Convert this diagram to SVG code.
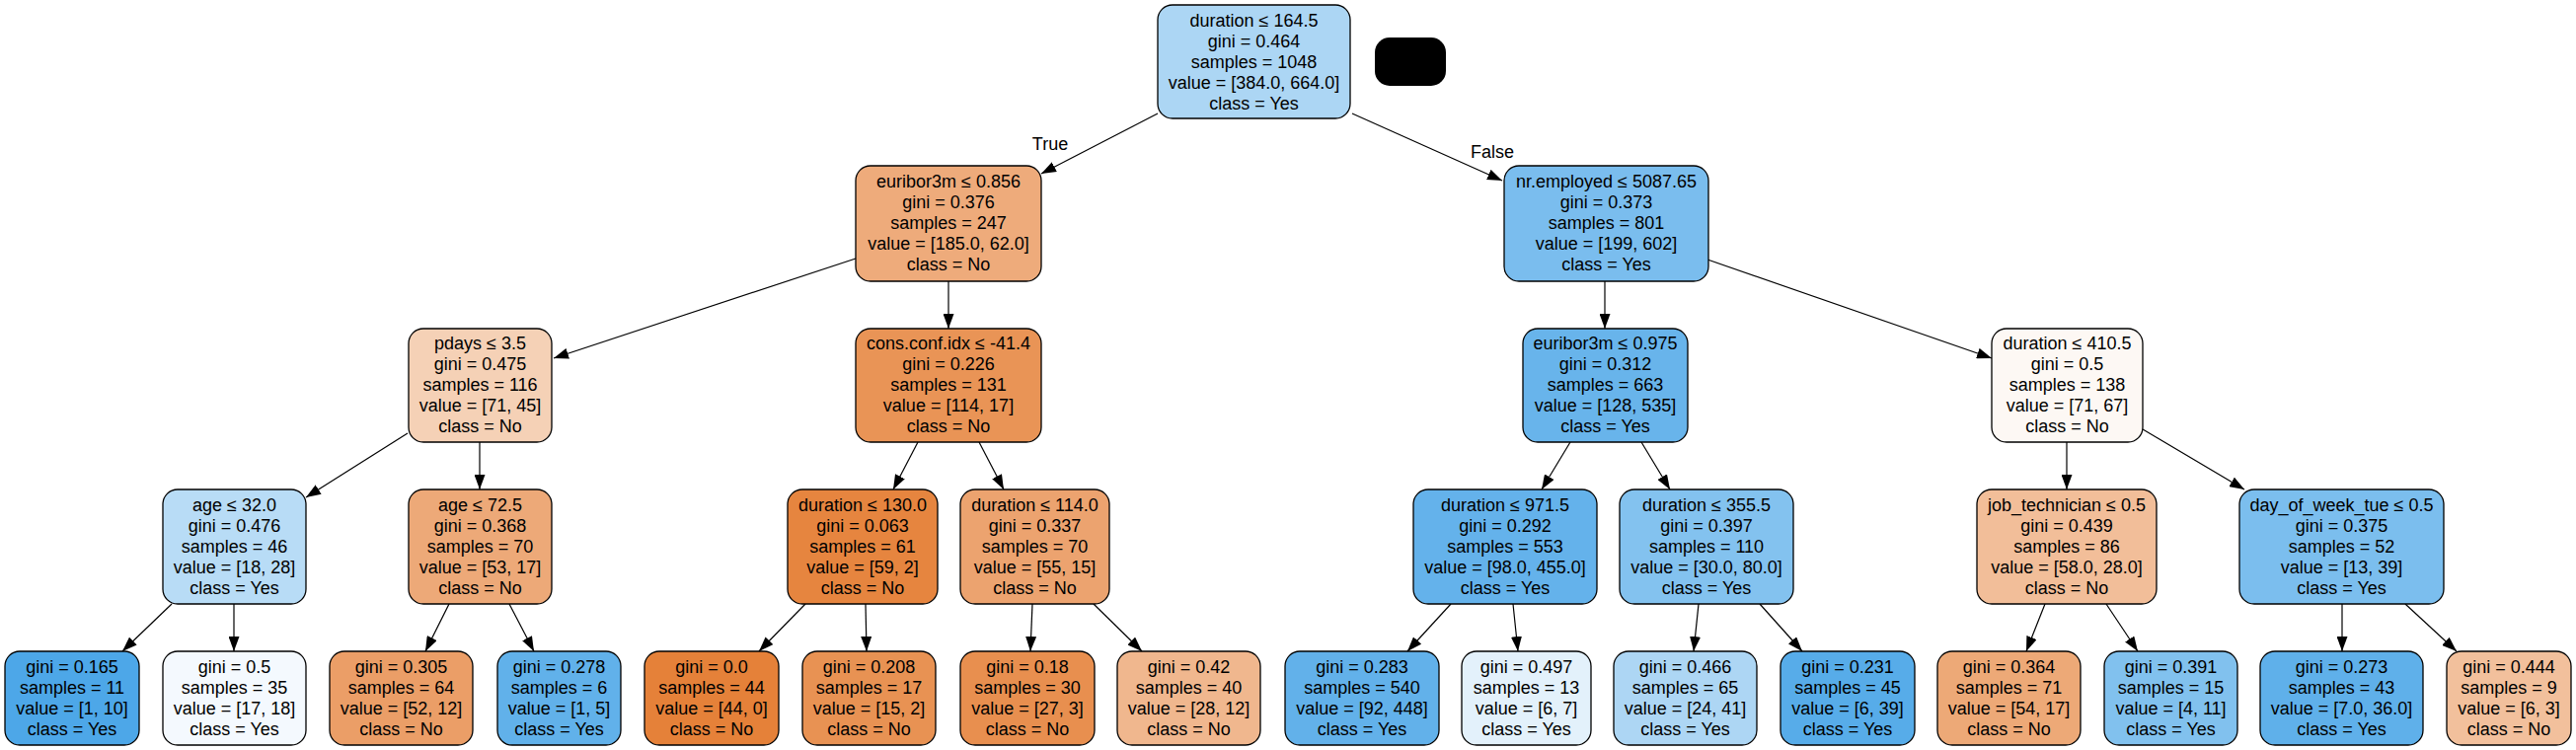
<svg xmlns="http://www.w3.org/2000/svg" width="2610" height="760" viewBox="0 0 2610 760">
<style>
.n rect{stroke:#000;stroke-width:1.3}
text{font-family:"Liberation Sans",Arial,sans-serif;font-size:18px;fill:#000;text-anchor:middle}
.e line{stroke:#000;stroke-width:1.2;marker-end:url(#ah)}
</style>
<defs>
<marker id="ah" markerUnits="userSpaceOnUse" markerWidth="15" markerHeight="11" refX="15" refY="5.5" orient="auto">
<path d="M0,0 L15,5.5 L0,11 z" fill="#000"/>
</marker>
</defs>
<rect width="2610" height="760" fill="#fff"/>
<g class="e" id="connectors">
<line x1="1173" y1="115" x2="1055" y2="176"/>
<line x1="1370" y1="115" x2="1522" y2="183"/>
<line x1="873" y1="260" x2="561" y2="363"/>
<line x1="961" y1="285" x2="961" y2="333"/>
<line x1="413" y1="439" x2="310" y2="504"/>
<line x1="486" y1="448" x2="486" y2="496"/>
<line x1="174" y1="612" x2="124" y2="660"/>
<line x1="237" y1="612" x2="237" y2="660"/>
<line x1="455" y1="612" x2="431" y2="660"/>
<line x1="516" y1="612" x2="541" y2="660"/>
<line x1="930" y1="448" x2="905" y2="496"/>
<line x1="992" y1="448" x2="1017" y2="496"/>
<line x1="816" y1="612" x2="769" y2="660"/>
<line x1="877" y1="612" x2="878" y2="660"/>
<line x1="1046" y1="612" x2="1044" y2="660"/>
<line x1="1108" y1="612" x2="1157" y2="660"/>
<line x1="1626" y1="285" x2="1626" y2="333"/>
<line x1="1730" y1="263" x2="2018" y2="363"/>
<line x1="1591" y1="448" x2="1562" y2="496"/>
<line x1="1663" y1="448" x2="1692" y2="496"/>
<line x1="1470" y1="612" x2="1426" y2="660"/>
<line x1="1533" y1="612" x2="1538" y2="660"/>
<line x1="1721" y1="612" x2="1716" y2="660"/>
<line x1="1783" y1="612" x2="1826" y2="660"/>
<line x1="2094" y1="448" x2="2094" y2="496"/>
<line x1="2171" y1="435" x2="2274" y2="496"/>
<line x1="2072" y1="612" x2="2053" y2="660"/>
<line x1="2134" y1="612" x2="2166" y2="660"/>
<line x1="2373" y1="612" x2="2373" y2="660"/>
<line x1="2437" y1="612" x2="2489" y2="660"/>
<text x="1064" y="152">True</text>
<text x="1512" y="160">False</text>
</g>
<g id="redaction"><rect x="1393" y="38" width="72" height="49" rx="15" fill="#000"/></g>
<g class="n" id="n0"><rect x="1173" y="5" width="195" height="115" rx="15" fill="#acd6f4"/><text x="1270.5" y="27">duration ≤ 164.5</text><text x="1270.5" y="48">gini = 0.464</text><text x="1270.5" y="69">samples = 1048</text><text x="1270.5" y="90">value = [384.0, 664.0]</text><text x="1270.5" y="111">class = Yes</text></g>
<g class="n" id="n1"><rect x="867" y="168" width="188" height="117" rx="15" fill="#eeab7b"/><text x="961" y="190">euribor3m ≤ 0.856</text><text x="961" y="211">gini = 0.376</text><text x="961" y="232">samples = 247</text><text x="961" y="253">value = [185.0, 62.0]</text><text x="961" y="274">class = No</text></g>
<g class="n" id="n16"><rect x="1524" y="168" width="207" height="117" rx="15" fill="#7abdee"/><text x="1627.5" y="190">nr.employed ≤ 5087.65</text><text x="1627.5" y="211">gini = 0.373</text><text x="1627.5" y="232">samples = 801</text><text x="1627.5" y="253">value = [199, 602]</text><text x="1627.5" y="274">class = Yes</text></g>
<g class="n" id="n2"><rect x="414" y="333" width="145" height="115" rx="15" fill="#f5d1b6"/><text x="486.5" y="354">pdays ≤ 3.5</text><text x="486.5" y="375">gini = 0.475</text><text x="486.5" y="396">samples = 116</text><text x="486.5" y="417">value = [71, 45]</text><text x="486.5" y="438">class = No</text></g>
<g class="n" id="n9"><rect x="867" y="333" width="188" height="115" rx="15" fill="#e99456"/><text x="961" y="354">cons.conf.idx ≤ -41.4</text><text x="961" y="375">gini = 0.226</text><text x="961" y="396">samples = 131</text><text x="961" y="417">value = [114, 17]</text><text x="961" y="438">class = No</text></g>
<g class="n" id="n17"><rect x="1543" y="333" width="167" height="115" rx="15" fill="#68b4eb"/><text x="1626.5" y="354">euribor3m ≤ 0.975</text><text x="1626.5" y="375">gini = 0.312</text><text x="1626.5" y="396">samples = 663</text><text x="1626.5" y="417">value = [128, 535]</text><text x="1626.5" y="438">class = Yes</text></g>
<g class="n" id="n24"><rect x="2018" y="333" width="153" height="115" rx="15" fill="#fdf8f4"/><text x="2094.5" y="354">duration ≤ 410.5</text><text x="2094.5" y="375">gini = 0.5</text><text x="2094.5" y="396">samples = 138</text><text x="2094.5" y="417">value = [71, 67]</text><text x="2094.5" y="438">class = No</text></g>
<g class="n" id="n3"><rect x="165" y="496" width="145" height="116" rx="15" fill="#b8dcf6"/><text x="237.5" y="518">age ≤ 32.0</text><text x="237.5" y="539">gini = 0.476</text><text x="237.5" y="560">samples = 46</text><text x="237.5" y="581">value = [18, 28]</text><text x="237.5" y="602">class = Yes</text></g>
<g class="n" id="n6"><rect x="414" y="496" width="145" height="116" rx="15" fill="#eda978"/><text x="486.5" y="518">age ≤ 72.5</text><text x="486.5" y="539">gini = 0.368</text><text x="486.5" y="560">samples = 70</text><text x="486.5" y="581">value = [53, 17]</text><text x="486.5" y="602">class = No</text></g>
<g class="n" id="n10"><rect x="798" y="496" width="152" height="116" rx="15" fill="#e6853f"/><text x="874" y="518">duration ≤ 130.0</text><text x="874" y="539">gini = 0.063</text><text x="874" y="560">samples = 61</text><text x="874" y="581">value = [59, 2]</text><text x="874" y="602">class = No</text></g>
<g class="n" id="n13"><rect x="973" y="496" width="151" height="116" rx="15" fill="#eca36f"/><text x="1048.5" y="518">duration ≤ 114.0</text><text x="1048.5" y="539">gini = 0.337</text><text x="1048.5" y="560">samples = 70</text><text x="1048.5" y="581">value = [55, 15]</text><text x="1048.5" y="602">class = No</text></g>
<g class="n" id="n18"><rect x="1432" y="496" width="186" height="116" rx="15" fill="#64b2eb"/><text x="1525" y="518">duration ≤ 971.5</text><text x="1525" y="539">gini = 0.292</text><text x="1525" y="560">samples = 553</text><text x="1525" y="581">value = [98.0, 455.0]</text><text x="1525" y="602">class = Yes</text></g>
<g class="n" id="n21"><rect x="1641" y="496" width="176" height="116" rx="15" fill="#83c2ef"/><text x="1729" y="518">duration ≤ 355.5</text><text x="1729" y="539">gini = 0.397</text><text x="1729" y="560">samples = 110</text><text x="1729" y="581">value = [30.0, 80.0]</text><text x="1729" y="602">class = Yes</text></g>
<g class="n" id="n25"><rect x="2003" y="496" width="182" height="116" rx="15" fill="#f2be99"/><text x="2094" y="518">job_technician ≤ 0.5</text><text x="2094" y="539">gini = 0.439</text><text x="2094" y="560">samples = 86</text><text x="2094" y="581">value = [58.0, 28.0]</text><text x="2094" y="602">class = No</text></g>
<g class="n" id="n28"><rect x="2269" y="496" width="207" height="116" rx="15" fill="#7bbeee"/><text x="2372.5" y="518">day_of_week_tue ≤ 0.5</text><text x="2372.5" y="539">gini = 0.375</text><text x="2372.5" y="560">samples = 52</text><text x="2372.5" y="581">value = [13, 39]</text><text x="2372.5" y="602">class = Yes</text></g>
<g class="n" id="n4"><rect x="5" y="660" width="136" height="95" rx="15" fill="#4da7e8"/><text x="73" y="682">gini = 0.165</text><text x="73" y="703">samples = 11</text><text x="73" y="724">value = [1, 10]</text><text x="73" y="745">class = Yes</text></g>
<g class="n" id="n5"><rect x="165" y="660" width="145" height="95" rx="15" fill="#f4f9fe"/><text x="237.5" y="682">gini = 0.5</text><text x="237.5" y="703">samples = 35</text><text x="237.5" y="724">value = [17, 18]</text><text x="237.5" y="745">class = Yes</text></g>
<g class="n" id="n7"><rect x="334" y="660" width="145" height="95" rx="15" fill="#eb9e67"/><text x="406.5" y="682">gini = 0.305</text><text x="406.5" y="703">samples = 64</text><text x="406.5" y="724">value = [52, 12]</text><text x="406.5" y="745">class = No</text></g>
<g class="n" id="n8"><rect x="504" y="660" width="125" height="95" rx="15" fill="#61b1ea"/><text x="566.5" y="682">gini = 0.278</text><text x="566.5" y="703">samples = 6</text><text x="566.5" y="724">value = [1, 5]</text><text x="566.5" y="745">class = Yes</text></g>
<g class="n" id="n11"><rect x="653" y="660" width="136" height="95" rx="15" fill="#e58139"/><text x="721" y="682">gini = 0.0</text><text x="721" y="703">samples = 44</text><text x="721" y="724">value = [44, 0]</text><text x="721" y="745">class = No</text></g>
<g class="n" id="n12"><rect x="813" y="660" width="135" height="95" rx="15" fill="#e89253"/><text x="880.5" y="682">gini = 0.208</text><text x="880.5" y="703">samples = 17</text><text x="880.5" y="724">value = [15, 2]</text><text x="880.5" y="745">class = No</text></g>
<g class="n" id="n14"><rect x="973" y="660" width="136" height="95" rx="15" fill="#e88f4f"/><text x="1041" y="682">gini = 0.18</text><text x="1041" y="703">samples = 30</text><text x="1041" y="724">value = [27, 3]</text><text x="1041" y="745">class = No</text></g>
<g class="n" id="n15"><rect x="1132" y="660" width="145" height="95" rx="15" fill="#f0b78e"/><text x="1204.5" y="682">gini = 0.42</text><text x="1204.5" y="703">samples = 40</text><text x="1204.5" y="724">value = [28, 12]</text><text x="1204.5" y="745">class = No</text></g>
<g class="n" id="n19"><rect x="1302" y="660" width="156" height="95" rx="15" fill="#62b1ea"/><text x="1380" y="682">gini = 0.283</text><text x="1380" y="703">samples = 540</text><text x="1380" y="724">value = [92, 448]</text><text x="1380" y="745">class = Yes</text></g>
<g class="n" id="n20"><rect x="1481" y="660" width="131" height="95" rx="15" fill="#e3f1fb"/><text x="1546.5" y="682">gini = 0.497</text><text x="1546.5" y="703">samples = 13</text><text x="1546.5" y="724">value = [6, 7]</text><text x="1546.5" y="745">class = Yes</text></g>
<g class="n" id="n22"><rect x="1635" y="660" width="145" height="95" rx="15" fill="#add6f4"/><text x="1707.5" y="682">gini = 0.466</text><text x="1707.5" y="703">samples = 65</text><text x="1707.5" y="724">value = [24, 41]</text><text x="1707.5" y="745">class = Yes</text></g>
<g class="n" id="n23"><rect x="1804" y="660" width="136" height="95" rx="15" fill="#57ace9"/><text x="1872" y="682">gini = 0.231</text><text x="1872" y="703">samples = 45</text><text x="1872" y="724">value = [6, 39]</text><text x="1872" y="745">class = Yes</text></g>
<g class="n" id="n26"><rect x="1963" y="660" width="145" height="95" rx="15" fill="#eda977"/><text x="2035.5" y="682">gini = 0.364</text><text x="2035.5" y="703">samples = 71</text><text x="2035.5" y="724">value = [54, 17]</text><text x="2035.5" y="745">class = No</text></g>
<g class="n" id="n27"><rect x="2132" y="660" width="135" height="95" rx="15" fill="#81c1ee"/><text x="2199.5" y="682">gini = 0.391</text><text x="2199.5" y="703">samples = 15</text><text x="2199.5" y="724">value = [4, 11]</text><text x="2199.5" y="745">class = Yes</text></g>
<g class="n" id="n29"><rect x="2290" y="660" width="165" height="95" rx="15" fill="#5fb0ea"/><text x="2372.5" y="682">gini = 0.273</text><text x="2372.5" y="703">samples = 43</text><text x="2372.5" y="724">value = [7.0, 36.0]</text><text x="2372.5" y="745">class = Yes</text></g>
<g class="n" id="n30"><rect x="2479" y="660" width="126" height="95" rx="15" fill="#f2c09c"/><text x="2542" y="682">gini = 0.444</text><text x="2542" y="703">samples = 9</text><text x="2542" y="724">value = [6, 3]</text><text x="2542" y="745">class = No</text></g>
</svg>
